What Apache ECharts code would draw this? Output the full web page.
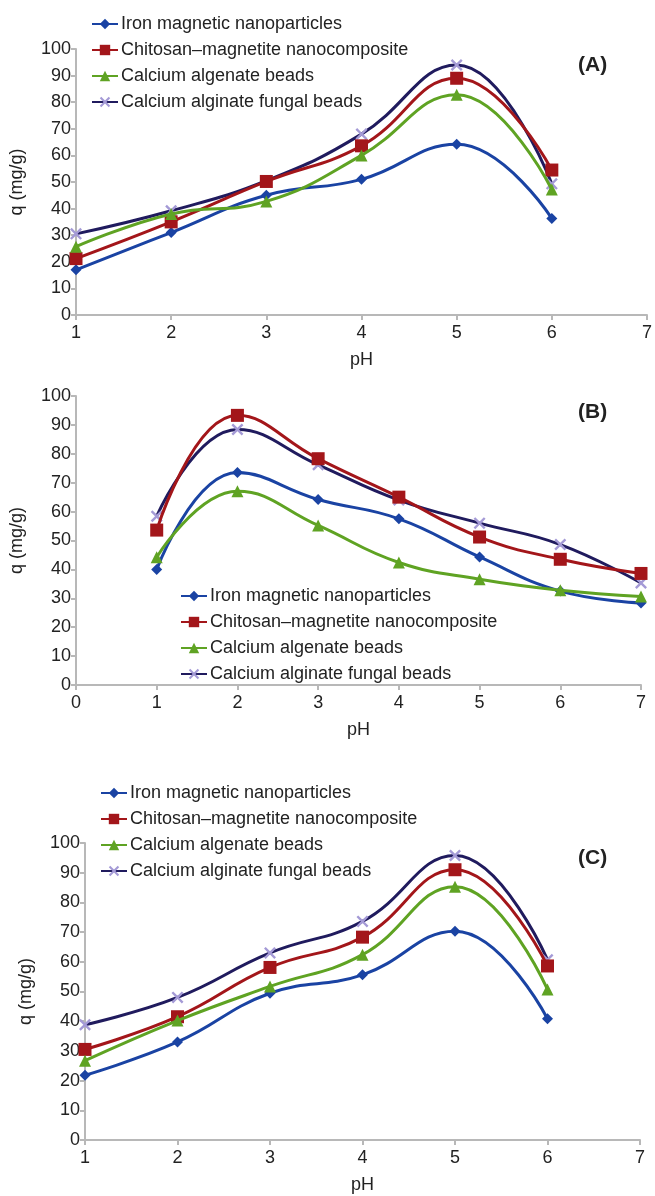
<!DOCTYPE html>
<html>
<head>
<meta charset="utf-8">
<script src="https://cdn.jsdelivr.net/npm/echarts@6/dist/echarts.min.js"></script>
<style>
  html, body { margin: 0; padding: 0; background: #fff; }
  #chart { width: 655px; height: 1196px; }
</style>
</head>
<body>
<div id="chart"></div>
<script>
const names = ['Iron magnetic nanoparticles', 'Chitosan\u2013magnetite nanocomposite', 'Calcium algenate beads', 'Calcium alginate fungal beads']

// panel A, pH 1..6
const phA = [1, 2, 3, 4, 5, 6]
const ironA = [17, 31, 45, 51, 64.2, 36.3]
const chitA = [21.2, 35, 50.2, 63.6, 89, 54.5]
const algA = [25.7, 38, 42.7, 60, 82.8, 47.2]
const fungA = [30.5, 39.2, 50.5, 68, 94, 49.3]

// panel B, pH 1..7
const phB = [1, 2, 3, 4, 5, 6, 7]
const ironB = [40, 73.5, 64.2, 57.5, 44.3, 32.5, 28.4]
const chitB = [53.6, 93.3, 78.3, 65, 51.2, 43.5, 38.6]
const algB = [44.2, 67, 55.2, 42.4, 36.6, 32.8, 30.6]
const fungB = [58.4, 88.4, 76.2, 64, 56, 48.6, 35.3]

// panel C, pH 1..6
const phC = [1, 2, 3, 4, 5, 6]
const ironC = [21.8, 33, 49.4, 55.6, 70.3, 40.8]
const chitC = [30.5, 41.5, 58.1, 68.3, 91, 58.6]
const algC = [26.7, 40.2, 51.7, 62.4, 85.3, 50.7]
const fungC = [38.8, 48, 63, 73.6, 95.8, 60.7]

const colors = ['#1a43a3', '#a3161a', '#5fa323', '#201b5e']
const xMark = 'path://M0,1.4L1.4,0L5,3.6L8.6,0L10,1.4L6.4,5L10,8.6L8.6,10L5,6.4L1.4,10L0,8.6L3.6,5Z'
const markers = [
  { symbol: 'diamond', size: 11, color: '#1a43a3' },
  { symbol: 'rect', size: 13, color: '#a3161a' },
  { symbol: 'triangle', size: 12, color: '#5fa323' },
  { symbol: xMark, size: 12, color: '#a49ad6' }
]

const panels = [
  { ph: phA, data: [ironA, chitA, algA, fungA], xmin: 1, top: 49, height: 266, left: 75, right: 8, legend: { left: 86, top: 10 }, tag: '(A)', tagY: 55 },
  { ph: phB, data: [ironB, chitB, algB, fungB], xmin: 0, top: 396, height: 289, left: 75, right: 14, legend: { left: 175, top: 582 }, tag: '(B)', tagY: 402 },
  { ph: phC, data: [ironC, chitC, algC, fungC], xmin: 1, top: 843, height: 297, left: 85, right: 15, legend: { left: 95, top: 779 }, tag: '(C)', tagY: 848 }
]

const font = 'Liberation Sans, Arial, sans-serif'
const axisGray = '#b8b8b8'

let grid = [], xAxis = [], yAxis = [], series = [], legend = [], graphic = []

panels.forEach((p, i) => {
  grid.push({ left: p.left, right: p.right, top: p.top, height: p.height })
  xAxis.push({
    type: 'value', gridIndex: i, min: p.xmin, max: 7, interval: 1,
    name: 'pH', nameLocation: 'middle', nameGap: 36,
    nameTextStyle: { fontFamily: font, fontSize: 18, color: '#222' },
    axisLine: { lineStyle: { color: axisGray, width: 2 } },
    axisTick: { show: true, length: 5, lineStyle: { color: axisGray, width: 2 } },
    axisLabel: { fontFamily: font, fontSize: 18, color: '#222', margin: 9 },
    splitLine: { show: false }
  })
  yAxis.push({
    type: 'value', gridIndex: i, min: 0, max: 100, interval: 10,
    name: 'q (mg/g)', nameLocation: 'middle', nameGap: 50, nameRotate: 90,
    nameTextStyle: { fontFamily: font, fontSize: 18, color: '#222' },
    axisLine: { show: true, lineStyle: { color: axisGray, width: 2 } },
    axisTick: { show: true, length: 5, lineStyle: { color: axisGray, width: 2 } },
    axisLabel: { fontFamily: font, fontSize: 18, color: '#222', margin: 5 },
    splitLine: { show: false }
  })
  p.data.forEach((vals, k) => {
    series.push({
      name: names[k], type: 'line', xAxisIndex: i, yAxisIndex: i,
      smooth: 0.45,
      data: p.ph.map((x, j) => [x, vals[j]]),
      symbol: markers[k].symbol, symbolSize: markers[k].size,
      lineStyle: { color: colors[k], width: 3 },
      itemStyle: { color: markers[k].color },
      z: k === 3 ? 1 : 2 + k
    })
  })
  legend.push({
    orient: 'vertical', left: p.legend.left, top: p.legend.top,
    itemWidth: 26, itemHeight: 13, itemGap: 8,
    textStyle: { fontFamily: font, fontSize: 18, color: '#222', padding: [0, 0, 0, -2] },
    data: names
  })
  graphic.push({
    type: 'text', left: 578, top: p.tagY,
    style: { text: p.tag, font: 'bold 21px ' + font, fill: '#222' }
  })
})

let myChart = echarts.init(document.getElementById('chart'))
myChart.setOption({
  animation: false,
  backgroundColor: '#fff',
  grid: grid,
  xAxis: xAxis,
  yAxis: yAxis,
  legend: legend,
  graphic: graphic,
  series: series
})
</script>
</body>
</html>
